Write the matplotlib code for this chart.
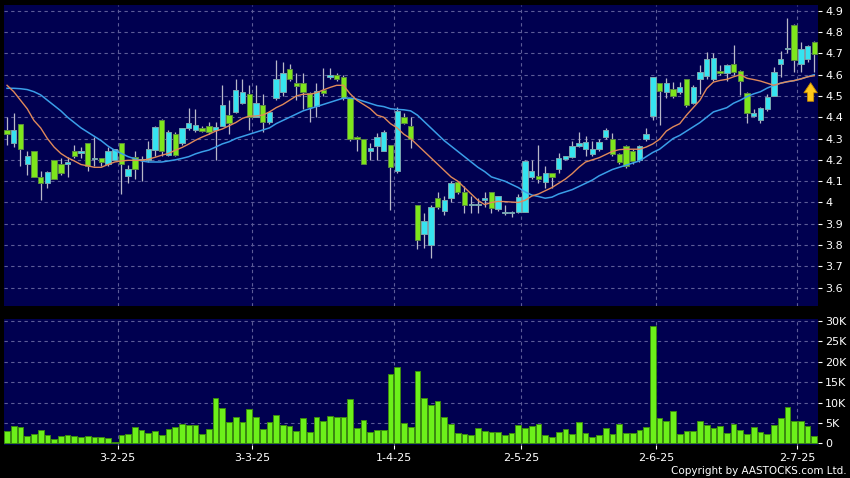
import matplotlib
matplotlib.use("Agg")
import matplotlib.pyplot as plt
import numpy as np

# ---------------- data ----------------
opens = [4.34, 4.28, 4.37, 4.18, 4.24, 4.12, 4.09, 4.20, 4.18, 4.18,
         4.24, 4.23, 4.28, 4.205, 4.21, 4.18, 4.20, 4.28, 4.125, 4.215,
         4.20, 4.20, 4.245, 4.385, 4.225, 4.32, 4.28, 4.35, 4.34, 4.35,
         4.36, 4.34, 4.36, 4.41, 4.426, 4.466, 4.508, 4.403, 4.458, 4.38,
         4.489, 4.517, 4.627, 4.56, 4.56, 4.516, 4.453, 4.528, 4.59, 4.60,
         4.588, 4.489, 4.306, 4.297, 4.242, 4.265, 4.24, 4.27, 4.146, 4.40,
         4.359, 3.987, 3.852, 3.80, 4.02, 3.96, 4.02, 4.098, 4.048, 3.986,
         3.986, 4.012, 4.047, 3.968, 3.95, 3.95, 3.957, 3.957, 4.12, 4.126,
         4.098, 4.137, 4.156, 4.205, 4.215, 4.265, 4.251, 4.228, 4.25, 4.306,
         4.297, 4.226, 4.265, 4.242, 4.20, 4.297, 4.408, 4.56, 4.52, 4.533,
         4.52, 4.578, 4.469, 4.578, 4.594, 4.578, 4.617, 4.606, 4.649, 4.617,
         4.516, 4.406, 4.387, 4.439, 4.50, 4.649, 4.719, 4.833, 4.65, 4.672,
         4.755]
highs = [4.40, 4.42, 4.37, 4.24, 4.24, 4.15, 4.15, 4.20, 4.21, 4.215,
         4.27, 4.26, 4.28, 4.305, 4.21, 4.26, 4.25, 4.28, 4.175, 4.24,
         4.22, 4.29, 4.36, 4.39, 4.34, 4.33, 4.35, 4.445, 4.437, 4.36,
         4.38, 4.38, 4.55, 4.48, 4.578, 4.58, 4.55, 4.55, 4.51, 4.43,
         4.67, 4.66, 4.65, 4.606, 4.606, 4.52, 4.56, 4.63, 4.63, 4.61,
         4.60, 4.49, 4.31, 4.30, 4.28, 4.325, 4.34, 4.27, 4.447, 4.42,
         4.40, 3.99, 3.95, 3.99, 4.05, 4.03, 4.10, 4.10, 4.075, 4.03,
         4.02, 4.05, 4.05, 4.03, 3.99, 3.96, 4.04, 4.20, 4.20, 4.27,
         4.17, 4.14, 4.23, 4.22, 4.29, 4.33, 4.31, 4.29, 4.30, 4.35,
         4.325, 4.23, 4.27, 4.25, 4.27, 4.35, 4.59, 4.56, 4.583, 4.567,
         4.567, 4.58, 4.55, 4.645, 4.708, 4.70, 4.645, 4.65, 4.74, 4.62,
         4.52, 4.44, 4.45, 4.51, 4.637, 4.71, 4.865, 4.84, 4.755, 4.74,
         4.76]
lows = [4.27, 4.26, 4.17, 4.13, 4.12, 4.01, 4.07, 4.11, 4.13, 4.12,
        4.21, 4.21, 4.15, 4.17, 4.17, 4.17, 4.20, 4.04, 4.09, 4.11,
        4.10, 4.19, 4.22, 4.22, 4.22, 4.22, 4.27, 4.34, 4.33, 4.33,
        4.32, 4.20, 4.36, 4.32, 4.42, 4.46, 4.34, 4.40, 4.33, 4.37,
        4.48, 4.50, 4.57, 4.48, 4.44, 4.38, 4.40, 4.50, 4.58, 4.57,
        4.48, 4.29, 4.24, 4.18, 4.20, 4.20, 4.24, 3.965, 4.14, 4.37,
        4.254, 3.78, 3.785, 3.738, 3.97, 3.94, 4.00, 4.04, 3.95, 3.95,
        3.95, 3.98, 3.95, 3.96, 3.94, 3.93, 3.95, 3.955, 4.11, 4.09,
        4.07, 4.07, 4.14, 4.20, 4.21, 4.26, 4.22, 4.22, 4.24, 4.30,
        4.22, 4.18, 4.16, 4.18, 4.19, 4.29, 4.387, 4.364, 4.49, 4.49,
        4.51, 4.45, 4.46, 4.51, 4.58, 4.57, 4.60, 4.57, 4.60, 4.505,
        4.375, 4.40, 4.375, 4.43, 4.50, 4.59, 4.70, 4.614, 4.614, 4.66,
        4.614]
closes = [4.32, 4.34, 4.25, 4.22, 4.12, 4.09, 4.145, 4.11, 4.14, 4.19,
          4.22, 4.24, 4.17, 4.205, 4.19, 4.24, 4.25, 4.18, 4.155, 4.155,
          4.20, 4.25, 4.355, 4.24, 4.33, 4.225, 4.35, 4.375, 4.365, 4.337,
          4.333, 4.356, 4.458, 4.375, 4.528, 4.517, 4.403, 4.466, 4.38, 4.426,
          4.578, 4.606, 4.578, 4.547, 4.52, 4.447, 4.525, 4.512, 4.60, 4.578,
          4.489, 4.30, 4.297, 4.18, 4.258, 4.306, 4.333, 4.168, 4.43, 4.375,
          4.297, 3.824, 3.915, 3.977, 3.977, 4.01, 4.09, 4.048, 3.988, 3.995,
          3.995, 4.023, 3.975, 4.03, 3.957, 3.957, 4.027, 4.197, 4.147, 4.108,
          4.137, 4.118, 4.207, 4.217, 4.267, 4.277, 4.286, 4.25, 4.286, 4.338,
          4.226, 4.192, 4.172, 4.197, 4.267, 4.32, 4.588, 4.525, 4.56, 4.50,
          4.544, 4.458, 4.544, 4.614, 4.672, 4.677, 4.606, 4.645, 4.614, 4.57,
          4.419, 4.419, 4.445, 4.497, 4.614, 4.674, 4.727, 4.669, 4.719, 4.735,
          4.697]
ma_short = [4.55, 4.52, 4.48, 4.44, 4.385, 4.35, 4.30, 4.26, 4.23, 4.21,
            4.195, 4.178, 4.172, 4.165, 4.165, 4.178, 4.19, 4.195, 4.198, 4.198,
            4.198, 4.203, 4.212, 4.222, 4.23, 4.245, 4.258, 4.274, 4.292, 4.307,
            4.32, 4.335, 4.345, 4.36, 4.375, 4.395, 4.405, 4.406, 4.41, 4.425,
            4.445, 4.46, 4.48, 4.50, 4.508, 4.508, 4.515, 4.528, 4.54, 4.55,
            4.55, 4.51, 4.48, 4.46, 4.44, 4.41, 4.40, 4.37, 4.35, 4.32,
            4.30, 4.27, 4.24, 4.21, 4.18, 4.15, 4.12, 4.10, 4.07, 4.04,
            4.01, 3.99, 4.0, 4.005, 4.004, 4.002, 4.0, 4.01, 4.03, 4.04,
            4.055, 4.07, 4.09, 4.11, 4.135, 4.165, 4.19, 4.20, 4.21, 4.225,
            4.24, 4.248, 4.25, 4.25, 4.25, 4.26, 4.275, 4.297, 4.335, 4.355,
            4.37, 4.41, 4.445, 4.48, 4.535, 4.565, 4.573, 4.578, 4.59, 4.60,
            4.583, 4.577, 4.57, 4.56, 4.55, 4.56, 4.567, 4.572, 4.58, 4.59,
            4.595]
ma_long = [4.536, 4.536, 4.534, 4.53, 4.52, 4.505, 4.48, 4.455, 4.43, 4.40,
           4.375, 4.35, 4.33, 4.31, 4.29, 4.265, 4.245, 4.23, 4.215, 4.205,
           4.195, 4.19, 4.19, 4.19, 4.195, 4.20, 4.207, 4.215, 4.228, 4.238,
           4.246, 4.26, 4.275, 4.285, 4.30, 4.31, 4.32, 4.33, 4.34, 4.35,
           4.37, 4.385, 4.40, 4.415, 4.43, 4.44, 4.45, 4.46, 4.47, 4.48,
           4.49, 4.49, 4.485, 4.475, 4.465, 4.455, 4.45, 4.44, 4.437, 4.435,
           4.43, 4.41, 4.38, 4.35, 4.32, 4.29, 4.265, 4.24, 4.215, 4.19,
           4.165, 4.145, 4.12, 4.11, 4.10, 4.085, 4.07, 4.05, 4.035, 4.028,
           4.02, 4.025, 4.04, 4.05, 4.06, 4.075, 4.09, 4.105, 4.125, 4.14,
           4.155, 4.165, 4.175, 4.185, 4.195, 4.215, 4.235, 4.25, 4.275, 4.30,
           4.315, 4.335, 4.355, 4.375, 4.40, 4.425, 4.435, 4.445, 4.466, 4.48,
           4.497, 4.51, 4.52, 4.537, 4.55, 4.56, 4.567, 4.572, 4.58, 4.59,
           4.60]
volume_k = [2.9, 4.2, 4.1, 1.9, 2.3, 3.3, 2.0, 1.1, 1.9, 2.0,
            1.9, 1.5, 1.8, 1.6, 1.55, 1.3, 0.3, 2.1, 2.3, 3.9,
            3.2, 2.5, 3.1, 2.1, 3.6, 3.9, 4.7, 4.4, 4.6, 2.3,
            3.5, 11.0, 8.6, 5.3, 6.5, 5.2, 8.3, 6.5, 3.4, 5.2,
            6.9, 4.5, 4.3, 3.0, 6.3, 2.8, 6.4, 5.4, 6.7, 6.5,
            6.5, 10.8, 3.7, 5.6, 2.8, 3.3, 3.3, 16.9, 18.8, 5.1,
            3.9, 17.8, 11.0, 9.4, 10.4, 6.4, 4.7, 2.5, 2.4, 2.0,
            3.7, 3.0, 2.8, 2.7, 2.1, 2.5, 4.6, 3.7, 4.3, 4.8,
            2.1, 1.5, 2.7, 3.6, 2.2, 5.2, 2.5, 1.6, 2.0, 3.8,
            2.2, 4.7, 2.5, 2.5, 3.3, 4.1, 28.9, 6.1, 5.4, 8.0,
            2.2, 3.0, 3.0, 5.5, 4.5, 3.7, 4.3, 2.5, 4.7, 3.3,
            2.4, 4.0, 2.8, 2.2, 4.6, 6.3, 9.0, 5.5, 5.4, 4.3,
            1.8]
date_labels = ["3-2-25", "3-3-25", "1-4-25", "2-5-25", "2-6-25", "2-7-25"]
date_index = [16, 36, 57, 76, 96, 117]
price_ticks = [3.6, 3.7, 3.8, 3.9, 4.0, 4.1, 4.2, 4.3, 4.4, 4.5, 4.6, 4.7, 4.8, 4.9]
price_tick_labels = ["3.6", "3.7", "3.8", "3.9", "4", "4.1", "4.2", "4.3",
                     "4.4", "4.5", "4.6", "4.7", "4.8", "4.9"]
vol_ticks = [0, 5, 10, 15, 20, 25, 30]
vol_tick_labels = ["0", "5K", "10K", "15K", "20K", "25K", "30K"]
arrow_index = 119.45
arrow_from, arrow_to = 4.462, 4.575

# ---------------- styling ----------------
W, H = 850, 478
BG = "#000050"
GRID = "#5c5c98"
CYAN = "#36e4f0"
CYAN_EDGE = "#7aa6b0"
GREEN = "#7ee61c"
GREEN_EDGE = "#5a8a40"
WICK = "#b8b8c8"
VOL = "#6cf01a"
VOL_EDGE = "#3c8a10"
ORANGE = "#e0895a"
BLUE = "#3a9ee8"

fig = plt.figure(figsize=(W / 100, H / 100), dpi=100, facecolor="black")

def rect(l, t, r, b):
    return [l / W, 1 - b / H, (r - l) / W, (b - t) / H]

axp = fig.add_axes(rect(4, 5, 818, 306))
axv = fig.add_axes(rect(4, 319, 818, 445))

n = len(closes)
x = np.arange(n)
o = np.array(opens); c = np.array(closes)
h = np.array(highs); l = np.array(lows)
up = c >= o

xlim = (-0.45, 120.55)
grid_x = [d + 0.45 for d in date_index]

for ax in (axp, axv):
    ax.set_facecolor(BG)
    for s in ax.spines.values():
        s.set_visible(False)
    ax.set_xlim(*xlim)
    ax.yaxis.tick_right()
    ax.tick_params(axis="y", colors="white", labelsize=8, length=3, width=0.8, pad=2,
                   direction="out")
    for gx in grid_x:
        ax.axvline(gx, color=GRID, lw=0.8, ls=(0, (3, 3)), zorder=1)

# price panel
axp.set_ylim(3.514, 4.927)
axp.set_yticks(price_ticks)
axp.set_yticklabels(price_tick_labels)
for pt in price_ticks:
    axp.axhline(pt, color=GRID, lw=0.8, ls=(0, (3, 3)), zorder=1)
axp.set_xticks([])

axp.vlines(x, l, h, color=WICK, lw=0.9, zorder=2)
body_bottom = np.minimum(o, c)
body_h = np.maximum(np.abs(c - o), 0.004)
cols = [CYAN if u else GREEN for u in up]
edges = [CYAN_EDGE if u else GREEN_EDGE for u in up]
axp.bar(x, body_h, bottom=body_bottom, width=0.8, color=cols, edgecolor=edges,
        linewidth=0.7, zorder=3)
axp.plot(x, ma_long, color=BLUE, lw=1.1, zorder=4)
axp.plot(x, ma_short, color=ORANGE, lw=1.0, zorder=5)

axp.annotate("", xy=(arrow_index, arrow_to), xytext=(arrow_index, arrow_from),
             arrowprops=dict(arrowstyle="simple,head_width=1.2,head_length=0.9,tail_width=0.55",
                             mutation_scale=8, fc="#ffc81a", ec="#c78a00", lw=0.6),
             zorder=6)

# volume panel
axv.set_ylim(-0.42, 30.5)
axv.set_yticks(vol_ticks)
axv.set_yticklabels(vol_tick_labels)
for vt in vol_ticks[1:]:
    axv.axhline(vt, color=GRID, lw=0.8, ls=(0, (3, 3)), zorder=1)
axv.bar(x, volume_k, width=0.85, color=VOL, edgecolor=VOL_EDGE, linewidth=0.7, zorder=3)
axv.set_xticks(grid_x)
axv.set_xticklabels(date_labels)
axv.tick_params(axis="x", colors="white", labelsize=8, length=3, width=0.8, pad=3)

fig.text(847 / W, 1 - 471 / H, "Copyright by AASTOCKS.com Ltd.", color="white",
         fontsize=7.5, ha="right", va="center")

fig.savefig("out.png", dpi=100, facecolor="black")
